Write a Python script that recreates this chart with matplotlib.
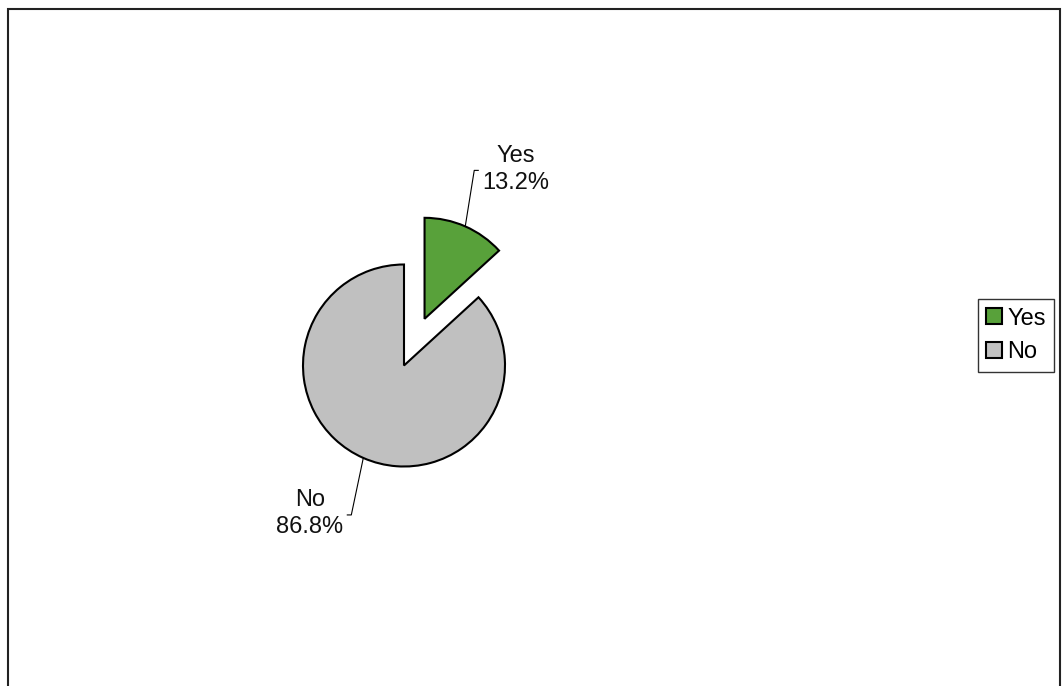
import math
import matplotlib.pyplot as plt
from matplotlib.patches import Rectangle

labels = ['Yes', 'No']
shares = [13.2, 86.8]
colors = ['#58a13a', '#c0c0c0']

plt.rcParams['font.family'] = ['Liberation Sans Narrow', 'Liberation Sans', 'DejaVu Sans']

W, H = 1063, 686
fig = plt.figure(figsize=(W / 100, H / 100), dpi=100)
ax = fig.add_axes([0, 0, 1, 1])

# axes in pixel units so the pie geometry is easy to place
center = (404, H - 365.5)
radius = 101
explode = [51, 0]

wedges, _ = ax.pie(shares, explode=explode, colors=colors, radius=radius, center=center,
                   startangle=90, counterclock=False, frame=True,
                   wedgeprops=dict(edgecolor='black', linewidth=1.5))
ax.set_xlim(0, W)
ax.set_ylim(0, H)
ax.set_axis_off()

# leader offsets (elbow relative to arc point) and side of text
leader = {'Yes': (9, 56, 1), 'No': (-12, -57, -1)}

for w, lab, val in zip(wedges, labels, shares):
    mid = math.radians((w.theta1 + w.theta2) / 2)
    cx, cy = w.center
    ax_x = cx + w.r * math.cos(mid)
    ax_y = cy + w.r * math.sin(mid)
    dx, dy, side = leader[lab]
    ex, ey = ax_x + dx, ax_y + dy
    tx = ex + side * 4
    ax.plot([ax_x, ex, tx], [ax_y, ey, ey], color='black', lw=0.8)
    ax.text(tx + side * 4, ey + 1, f'{lab}\n{val:.1f}%', fontsize=17,
            ha='left' if side > 0 else 'right', va='center',
            multialignment='center', linespacing=1.3, color='#111111')

leg = fig.legend(wedges, labels, loc='center left', bbox_to_anchor=(978 / W, 1 - 335.5 / H),
                 fontsize=17, frameon=True, fancybox=False, edgecolor='black',
                 handlelength=0.65, handleheight=0.65, handletextpad=0.25,
                 labelspacing=0.5, borderpad=0.35, borderaxespad=0)
leg.get_frame().set_linewidth(1)

fig.add_artist(Rectangle((7.5 / W, -0.05), (1059.5 - 7.5) / W, 1.05 - 9 / H,
                         transform=fig.transFigure, fill=False,
                         edgecolor='#222222', lw=1.5))

fig.savefig('out.png', dpi=100)
